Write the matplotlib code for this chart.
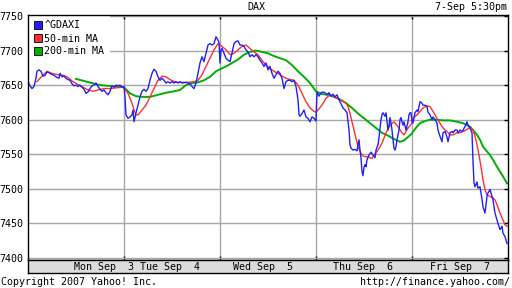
import matplotlib
matplotlib.use("Agg")
import matplotlib.pyplot as plt
from matplotlib.patches import Patch
import numpy as np

# x values are intraday sample indices (96 samples per trading session)
BARS_PER_DAY = 96
days = ["Mon Sep  3", "Tue Sep  4", "Wed Sep  5", "Thu Sep  6", "Fri Sep  7"]

gdaxi_t = [0, 1, 2, 4, 6, 8, 9, 11, 13, 15, 17, 19, 21, 23, 25, 27, 29, 31, 32, 34, 36, 38, 40, 42,
           44, 46, 48, 50, 52, 54, 56, 58, 60, 62, 64, 66, 68, 70, 72, 74, 76, 78, 80, 82, 84, 86,
           88, 90, 92, 94, 96,
           97, 98, 100, 102, 104, 105, 106, 108, 110, 112, 114, 116, 118, 120, 122, 124, 126, 128,
           130, 132, 134, 136, 138, 140, 142, 144, 146, 148, 150, 152, 154, 158, 162, 164, 166,
           168, 170, 172, 174, 176, 178, 180, 182, 184, 186, 188, 190, 191, 192,
           193, 194, 196, 198, 200, 202, 204, 206, 208, 210, 212, 214, 216, 218, 220, 222, 224,
           226, 228, 230, 232, 234, 236, 238, 240, 242, 244, 246, 248, 250, 252, 254, 256, 258,
           260, 262, 264, 266, 268, 270, 271, 272, 274, 276, 278, 280, 282, 284, 286, 288,
           289, 291, 293, 295, 297, 299, 301, 303, 305, 307, 309, 311, 313, 315, 317, 319, 321,
           322, 323, 325, 327, 329, 330, 331, 332, 333, 334, 335, 336, 337, 338, 339, 341, 343,
           345, 347, 348, 350, 351, 352, 353, 354, 355, 357, 358, 359, 360, 361, 362, 363, 364,
           365, 366, 367, 368, 369, 370, 371, 372, 373, 374, 375, 376, 377, 378, 379, 380, 381,
           382, 383, 384,
           385, 387, 389, 390, 392, 394, 395, 397, 399, 400, 402, 404, 405, 407, 409, 410, 412,
           414, 415, 417, 419, 420, 422, 424, 425, 427, 429, 430, 432, 434, 435, 437, 439, 440,
           442, 444, 445, 446, 447, 449, 450, 452, 454, 455, 457, 459, 460, 462, 464, 465, 467,
           469, 470, 472, 474, 475, 477, 479]
gdaxi_v = [7657, 7652, 7649, 7645, 7648, 7660, 7670, 7672, 7670, 7663, 7664, 7669, 7668, 7666,
           7665, 7663, 7661, 7660, 7667, 7662, 7663, 7660, 7658, 7657, 7652, 7649, 7650, 7648,
           7650, 7647, 7644, 7638, 7640, 7645, 7649, 7650, 7653, 7648, 7644, 7641, 7643, 7639,
           7636, 7641, 7649, 7647, 7650, 7649, 7650, 7647, 7648,
           7633, 7607, 7602, 7604, 7607, 7614, 7597, 7610, 7621, 7633, 7641, 7644, 7641, 7645,
           7657, 7667, 7673, 7670, 7662, 7657, 7660, 7657, 7653, 7655, 7653, 7655, 7653, 7655,
           7653, 7655, 7653, 7654, 7652, 7648, 7645, 7653, 7667, 7682, 7691, 7684, 7696, 7708,
           7710, 7708, 7710, 7720, 7715, 7712, 7682,
           7700, 7703, 7696, 7689, 7686, 7684, 7696, 7710, 7713, 7714, 7708, 7708, 7706, 7701,
           7698, 7691, 7694, 7691, 7694, 7691, 7686, 7682, 7677, 7682, 7672, 7677, 7667, 7660,
           7665, 7670, 7667, 7660, 7645, 7655, 7657, 7657, 7655, 7657, 7648, 7629, 7607, 7605,
           7609, 7614, 7604, 7602, 7597, 7604, 7602, 7598,
           7640, 7634, 7639, 7640, 7639, 7636, 7639, 7634, 7637, 7633, 7636, 7629, 7623, 7617,
           7614, 7610, 7585, 7564, 7559, 7556, 7557, 7555, 7564, 7571, 7556, 7545, 7525, 7519,
           7531, 7535, 7532, 7542, 7549, 7553, 7549, 7545, 7556, 7564, 7574, 7588, 7600, 7607,
           7610, 7605, 7610, 7597, 7585, 7591, 7603, 7595, 7585, 7571, 7559, 7556, 7561, 7571,
           7578, 7585, 7600, 7603, 7597, 7592, 7597, 7591, 7585, 7591, 7597, 7607, 7610, 7610,
           7598,
           7595, 7610, 7614, 7612, 7626, 7624, 7621, 7621, 7619, 7611, 7607, 7600, 7604, 7600,
           7595, 7585, 7576, 7568, 7581, 7583, 7575, 7568, 7581, 7583, 7581, 7585, 7585, 7581,
           7585, 7583, 7585, 7590, 7597, 7592, 7588, 7581, 7540, 7509, 7503, 7510, 7501, 7503,
           7485, 7474, 7465, 7489, 7494, 7499, 7489, 7484, 7465, 7455, 7450, 7441, 7446, 7436,
           7431, 7421]

ma50_t = [9, 12, 16, 19, 24, 30, 36, 40, 45, 50, 55, 60, 65, 70, 76, 82, 88, 94, 96,
          100, 104, 106, 108, 110, 114, 118, 122, 126, 130, 134, 138, 142, 148, 154, 160, 166,
          170, 174, 178, 182, 186, 190, 192,
          194, 198, 202, 206, 210, 214, 218, 222, 226, 230, 234, 238, 242, 246, 250, 254, 258,
          262, 266, 270, 274, 278, 282, 286, 288,
          290, 294, 298, 302, 306, 310, 314, 318, 320, 322, 324, 326, 328, 330, 332, 334, 336,
          340, 344, 346, 350, 354, 358, 362, 366, 370, 374, 376, 380, 384,
          385, 389, 392, 395, 399, 402, 405, 409, 412, 415, 419, 422, 425, 429, 432, 435, 439,
          442, 445, 447, 449, 451, 453, 455, 457, 459, 462, 465, 467, 469, 472, 475, 477, 479]
ma50_v = [7655, 7660, 7666, 7670, 7667, 7665, 7664, 7661, 7655, 7651, 7647, 7643, 7641, 7643,
          7645, 7645, 7646, 7647, 7646,
          7638, 7624, 7614, 7607, 7607, 7614, 7621, 7633, 7645, 7657, 7663, 7662, 7658, 7654,
          7654, 7654, 7655, 7657, 7665, 7677, 7689, 7701, 7710, 7708,
          7706, 7701, 7694, 7696, 7701, 7706, 7708, 7703, 7698, 7694, 7686, 7679, 7674, 7670,
          7667, 7663, 7660, 7658, 7657, 7650, 7638, 7626, 7617, 7612, 7611,
          7614, 7621, 7631, 7636, 7633, 7631, 7628, 7624, 7619, 7609, 7597, 7585, 7573, 7561,
          7554, 7549, 7547, 7546, 7544, 7549, 7556, 7566, 7581, 7592, 7597, 7590, 7581, 7578,
          7588, 7595,
          7602, 7607, 7612, 7617, 7620, 7619, 7612, 7602, 7595, 7588, 7583, 7578, 7578, 7581,
          7581, 7583, 7586, 7589, 7585, 7576, 7564, 7549, 7532, 7513, 7499, 7491, 7489, 7487,
          7484, 7477, 7465, 7455, 7448, 7446]

ma200_t = [48, 56, 64, 72, 80, 88, 96,
           102, 108, 114, 122, 130, 138, 146, 152, 158, 164, 170, 176, 182, 188, 192,
           198, 204, 210, 216, 222, 228, 234, 240, 246, 252, 258, 264, 270, 276, 282, 288,
           294, 300, 306, 312, 318, 324, 330, 336, 342, 348, 354, 360, 366, 372, 376, 380, 384,
           385, 389, 392, 397, 402, 409, 415, 422, 429, 435, 439, 442, 445, 449, 452, 455, 459,
           462, 465, 469, 472, 475, 479]
ma200_v = [7659, 7656, 7653, 7650, 7649, 7648, 7647,
           7638, 7634, 7633, 7633, 7636, 7639, 7641, 7643, 7650, 7653, 7654, 7657, 7662, 7670,
           7673,
           7677, 7682, 7687, 7694, 7698, 7700, 7698, 7696, 7692, 7689, 7686, 7679, 7670, 7662,
           7653, 7641,
           7637, 7636, 7633, 7629, 7624, 7617, 7609, 7602, 7595, 7588, 7581, 7577, 7572, 7568,
           7570, 7575, 7580,
           7583, 7590, 7595, 7598, 7600, 7600, 7599, 7599, 7597, 7595, 7592, 7590, 7585, 7578,
           7571, 7561, 7554, 7549, 7542, 7532, 7525, 7518, 7508]

y_ticks = [7400, 7450, 7500, 7550, 7600, 7650, 7700, 7750]

BLUE = "#2020ff"
RED = "#ff3030"
GREEN = "#00b000"
GRID = "#a8a8a8"
FONT = "DejaVu Sans Mono"
FS = 7.2

fig = plt.figure(figsize=(5.12, 2.88), dpi=100)
W, H = 512, 288
ax = fig.add_axes([28 / W, (H - 260) / H, 480 / W, 245 / H])
n_days = len(days)
ax.set_xlim(0, n_days * BARS_PER_DAY)
ax.set_ylim(7397.1, 7751.4)

ax.plot(ma200_t, ma200_v, color=GREEN, lw=1.4, zorder=3)
ax.plot(ma50_t, ma50_v, color=RED, lw=1.0, zorder=4)
ax.plot(gdaxi_t, gdaxi_v, color=BLUE, lw=1.0, zorder=5)

ax.set_yticks(y_ticks)
ax.set_yticklabels([str(v) for v in y_ticks], fontfamily=FONT, fontsize=FS)
ax.set_xticks([BARS_PER_DAY * i for i in range(1, n_days)])
ax.set_xticklabels([])
ax.grid(True, color=GRID, lw=1.0)
ax.set_axisbelow(True)
ax.tick_params(axis="x", direction="in", top=True, bottom=True, length=3, width=1, color="black")
ax.tick_params(axis="y", direction="in", left=False, right=True, labelleft=True,
               length=3, width=1, color="black", pad=3)
for s in ax.spines.values():
    s.set_color("black")
    s.set_linewidth(1.0)
    s.set_zorder(12)

handles = [Patch(facecolor=BLUE, edgecolor="black", lw=0.6, label="^GDAXI"),
           Patch(facecolor=RED, edgecolor="black", lw=0.6, label="50-min MA"),
           Patch(facecolor=GREEN, edgecolor="black", lw=0.6, label="200-min MA")]
leg = ax.legend(handles=handles, loc="upper left", bbox_to_anchor=(0.0, 1.0),
                prop={"family": FONT, "size": FS}, frameon=True, fancybox=False,
                handlelength=0.8, handleheight=0.8, handletextpad=0.3,
                borderpad=0.55, borderaxespad=0.0, labelspacing=0.3)
leg.get_frame().set_facecolor("white")
leg.get_frame().set_edgecolor("none")
leg.get_frame().set_alpha(1.0)
leg.set_zorder(10)

# date band
bx = fig.add_axes([28 / W, (H - 273) / H, 480 / W, 13 / H])
bx.set_xlim(0, n_days * BARS_PER_DAY)
bx.set_ylim(0, 1)
bx.set_facecolor("#dcdcdc")
bx.set_xticks([])
bx.set_yticks([])
for s in bx.spines.values():
    s.set_color("black")
    s.set_linewidth(1.0)
label_pos = [76, 142, 235, 335, 432]
for lbl, p in zip(days, label_pos):
    bx.text(p, 0.45, lbl, ha="center", va="center", fontfamily=FONT, fontsize=FS)

fig.text(256 / W, 1 - 7 / H, "DAX", ha="center", va="center", fontfamily=FONT, fontsize=FS)
fig.text(507 / W, 1 - 7 / H, "7-Sep 5:30pm", ha="right", va="center", fontfamily=FONT, fontsize=FS)
fig.text(1 / W, 1 - 282 / H, "Copyright 2007 Yahoo! Inc.", ha="left", va="center",
         fontfamily=FONT, fontsize=FS)
fig.text(510 / W, 1 - 282 / H, "http://finance.yahoo.com/", ha="right", va="center",
         fontfamily=FONT, fontsize=FS)

fig.savefig("out.png", dpi=100, facecolor="white")
